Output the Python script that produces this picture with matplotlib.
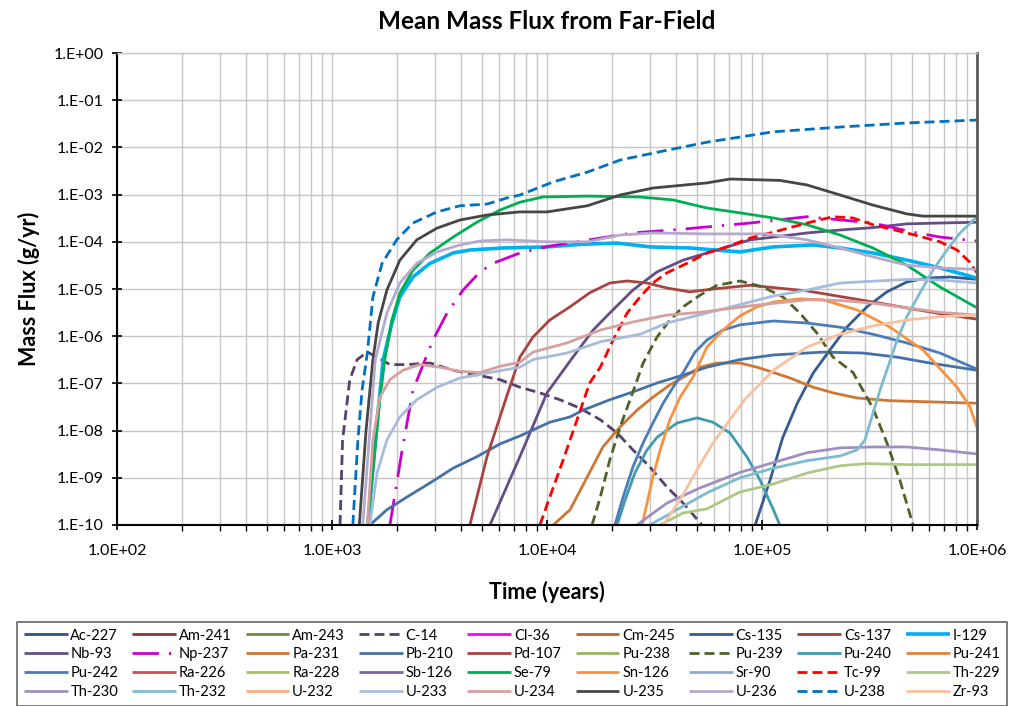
import matplotlib
matplotlib.use("Agg")
import matplotlib.pyplot as plt
from matplotlib.ticker import FuncFormatter, LogLocator, NullFormatter

plt.rcParams['font.family'] = ['Lato', 'DejaVu Sans']

# legend order as in the chart (alphabetical, filled row by row)
names = ['Ac-227', 'Am-241', 'Am-243', 'C-14', 'Cl-36', 'Cm-245', 'Cs-135', 'Cs-137', 'I-129',
         'Nb-93', 'Np-237', 'Pa-231', 'Pb-210', 'Pd-107', 'Pu-238', 'Pu-239', 'Pu-240', 'Pu-241',
         'Pu-242', 'Ra-226', 'Ra-228', 'Sb-126', 'Se-79', 'Sn-126', 'Sr-90', 'Tc-99', 'Th-229',
         'Th-230', 'Th-232', 'U-232', 'U-233', 'U-234', 'U-235', 'U-236', 'U-238', 'Zr-93']

# time (years) and mean mass flux (g/yr)
u238_t = [1250, 1320, 1380, 1460, 1550, 1710, 2000, 2380, 3080, 3940, 5260, 6520, 7480,
          1.07e4, 1.54e4, 2.19e4, 3.61e4, 5.55e4, 1.13e5, 2.31e5, 4.72e5, 1e6]
u238_f = [1e-10, 6.3e-9, 7.2e-8, 4.4e-7, 6.8e-6, 3.5e-5, 1.1e-4, 2.5e-4, 4.3e-4, 5.8e-4, 6.3e-4,
          8.5e-4, 9.8e-4, 1.86e-3, 3.0e-3, 5.4e-3, 8.7e-3, 1.29e-2, 2.14e-2, 2.7e-2, 3.3e-2, 3.8e-2]

u235_t = [1340, 1440, 1550, 1640, 1800, 2070, 2480, 3080, 3940, 5260, 7480, 1e4,
          1.54e4, 2.19e4, 3.11e4, 5.55e4, 7.1e4, 1.21e5, 1.62e5, 2.31e5, 3.28e5, 4.72e5, 5.61e5, 1e6]
u235_f = [1e-10, 1e-8, 3.2e-7, 1.9e-6, 9.5e-6, 4.1e-5, 1.1e-4, 1.95e-4, 2.9e-4, 3.7e-4, 4.3e-4, 4.3e-4,
          5.8e-4, 9.8e-4, 1.38e-3, 1.77e-3, 2.14e-3, 2.0e-3, 1.6e-3, 9.8e-4, 6.0e-4, 3.9e-4, 3.5e-4, 3.5e-4]

se79_t = [1460, 1570, 1670, 1760, 1900, 2070, 2380, 2860, 3660, 4720, 6040, 7480, 9570,
          1.54e4, 2.71e4, 3.86e4, 5.55e4, 7.9e4, 1.13e5, 1.62e5, 2.31e5, 3.28e5, 4.72e5, 6.73e5, 1e6]
se79_f = [1e-10, 2.4e-9, 4.5e-8, 3.2e-7, 2.2e-6, 8.3e-6, 2.5e-5, 5.8e-5, 1.26e-4, 2.6e-4, 4.7e-4, 6.9e-4, 8.9e-4,
          9.3e-4, 8.9e-4, 7.7e-4, 5.2e-4, 4.1e-4, 3.2e-4, 2.3e-4, 1.39e-4, 7.4e-5, 3.2e-5, 1.1e-5, 4.0e-6]

u236_t = [1390, 1500, 1590, 1800, 2070, 2480, 3080, 3940, 4880, 6520, 1e4,
          1.54e4, 2.19e4, 3.11e4, 5.55e4, 1.05e5, 1.62e5, 2.31e5, 3.28e5, 4.72e5, 6.73e5, 1e6]
u236_f = [1e-10, 1e-8, 3.2e-7, 3.1e-6, 1.34e-5, 3.5e-5, 6.1e-5, 8.6e-5, 1.04e-4, 1.1e-4, 1.0e-4,
          1.0e-4, 1.39e-4, 1.54e-4, 1.47e-4, 1.47e-4, 1.1e-4, 7.4e-5, 4.8e-5, 3.2e-5, 2.8e-5, 2.6e-5]

i129_t = [1470, 1590, 1730, 1900, 2070, 2380, 2860, 3660, 4380, 6240, 1e4, 1.47e4,
          2.12e4, 3.01e4, 4.62e4, 7.9e4, 1.13e5, 1.73e5, 2.31e5, 3.28e5, 4.72e5, 6.73e5, 1e6]
i129_f = [1e-10, 6.3e-9, 3.2e-7, 1.9e-6, 6.8e-6, 1.8e-5, 3.5e-5, 5.8e-5, 6.7e-5, 7.4e-5, 7.8e-5, 8.9e-5,
          9.4e-5, 7.8e-5, 7.4e-5, 6.1e-5, 7.8e-5, 8.6e-5, 7.4e-5, 5.8e-5, 4.1e-5, 2.8e-5, 1.7e-5]

np237_t = [1860, 2120, 2380, 2950, 3430, 4070, 4880, 5610, 7480, 1.03e4, 1.77e4, 2.51e4,
           4.3e4, 8.8e4, 1.62e5, 3.28e5, 5.04e5, 6.73e5, 1e6]
np237_f = [1e-10, 3.9e-9, 7.2e-8, 8.3e-7, 3.1e-6, 9.5e-6, 2.3e-5, 3.5e-5, 5.8e-5, 8.1e-5, 1.2e-4, 1.54e-4,
           1.86e-4, 2.5e-4, 3.4e-4, 2.5e-4, 1.6e-4, 1.26e-4, 1.04e-4]

tc99_t = [9270, 1.03e4, 1.19e4, 1.38e4, 1.58e4, 1.77e4, 2.03e4, 2.36e4, 2.71e4, 3.11e4, 3.61e4, 4.48e4,
          5.55e4, 6.87e4, 8.8e4, 1.13e5, 1.62e5, 2.14e5, 2.65e5, 3.28e5, 4.72e5, 6.73e5, 8.07e5, 9.27e5, 1e6]
tc99_f = [1e-10, 3.9e-10, 2.4e-9, 1.7e-8, 1.02e-7, 2.2e-7, 8.3e-7, 3.1e-6, 6.8e-6, 1.34e-5, 2.2e-5, 3.5e-5,
          5.8e-5, 7.8e-5, 1.2e-4, 1.6e-4, 2.5e-4, 3.4e-4, 3.2e-4, 2.3e-4, 1.54e-4, 1.0e-4, 6.7e-5, 3.7e-5, 2.2e-5]

nb93_t = [5430, 7480, 1e4, 1.32e4, 1.64e4, 1.96e4, 2.51e4, 3.25e4, 4.3e4, 6.18e4, 8.8e4,
          1.13e5, 1.62e5, 2.31e5, 3.28e5, 4.72e5, 6.73e5, 1e6]
nb93_f = [1e-10, 2.8e-9, 6.3e-8, 3.6e-7, 1.35e-6, 3.1e-6, 9.5e-6, 2.3e-5, 4.1e-5, 6.7e-5, 1.1e-4,
          1.26e-4, 1.54e-4, 1.78e-4, 2.0e-4, 2.4e-4, 2.5e-4, 2.6e-4]

pd107_t = [4380, 5260, 6520, 7480, 8610, 1.03e4, 1.28e4, 1.58e4, 1.96e4, 2.36e4, 2.92e4, 3.61e4,
           4.62e4, 5.92e4, 8.8e4, 1.62e5, 3.28e5, 6.73e5, 1e6]
pd107_f = [1e-10, 2.8e-9, 5.6e-8, 3.6e-7, 9.6e-7, 2.2e-6, 4.2e-6, 8.3e-6, 1.34e-5, 1.48e-5, 1.34e-5, 1.05e-5,
           8.7e-6, 1.0e-5, 1.2e-5, 9.1e-6, 5.3e-6, 3.0e-6, 2.3e-6]

c14_t = [1090, 1120, 1210, 1310, 1460, 1640, 1860, 2230, 2860, 3660, 4720, 6040, 7480, 9270,
         1.15e4, 1.42e4, 1.77e4, 2.12e4, 2.51e4, 3.01e4, 3.61e4, 4.3e4, 5.26e4]
c14_f = [1e-10, 6.3e-9, 1.2e-7, 3.2e-7, 4.6e-7, 3.5e-7, 2.5e-7, 2.5e-7, 2.7e-7, 1.9e-7, 1.5e-7, 1.2e-7, 8.3e-8, 6.3e-8,
         4.5e-8, 3.0e-8, 1.7e-8, 8.9e-9, 3.9e-9, 1.7e-9, 6.4e-10, 2.9e-10, 1e-10]

u234_t = [1460, 1550, 1670, 1860, 2140, 2560, 3180, 3940, 4880, 6040, 7480, 8610,
          1.24e4, 1.77e4, 2.51e4, 3.61e4, 5.15e4, 8.8e4, 1.62e5, 2.31e5, 3.28e5, 4.72e5, 6.73e5, 1e6]
u234_f = [1e-10, 6.3e-9, 5.1e-8, 1.2e-7, 1.9e-7, 2.5e-7, 2.2e-7, 1.8e-7, 1.7e-7, 2.3e-7, 2.8e-7, 4.6e-7,
          7.2e-7, 1.35e-6, 2.0e-6, 2.8e-6, 3.2e-6, 4.4e-6, 5.9e-6, 5.7e-6, 5.0e-6, 4.0e-6, 3.2e-6, 2.8e-6]

u233_t = [1500, 1620, 1800, 2070, 2480, 3080, 3940, 5260, 7480, 8610, 1.24e4,
          1.77e4, 2.71e4, 3.61e4, 5.55e4, 1.13e5, 1.62e5, 2.31e5, 4.72e5, 6.73e5, 1e6]
u233_f = [1e-10, 1.26e-9, 6.3e-9, 1.95e-8, 4.5e-8, 8.3e-8, 1.3e-7, 1.66e-7, 2.2e-7, 3.2e-7, 4.4e-7,
          7.6e-7, 1.1e-6, 1.9e-6, 3.1e-6, 7.1e-6, 9.5e-6, 1.34e-5, 1.6e-5, 1.55e-5, 1.34e-5]

pb210_t = [1500, 1800, 2230, 2860, 3660, 4720, 6040, 7480, 1.03e4, 1.28e4, 1.47e4, 1.96e4,
           2.51e4, 3.25e4, 4.3e4, 5.55e4, 7.9e4, 1.13e5, 1.92e5, 2.95e5, 4.25e5, 6.04e5, 1e6]
pb210_f = [1e-10, 2.1e-10, 3.9e-10, 7.8e-10, 1.6e-9, 2.8e-9, 5.2e-9, 7.7e-9, 1.5e-8, 1.95e-8, 2.7e-8, 4.5e-8,
           6.6e-8, 1.02e-7, 1.5e-7, 2.2e-7, 3.2e-7, 4.0e-7, 4.6e-7, 4.4e-7, 3.6e-7, 2.7e-7, 1.9e-7]

pa231_t = [1.07e4, 1.28e4, 1.54e4, 1.82e4, 2.19e4, 2.62e4, 3.11e4, 3.73e4, 4.48e4, 5.15e4, 6.18e4,
           7.9e4, 9.5e4, 1.13e5, 1.35e5, 1.73e5, 2.14e5, 2.77e5, 3.94e5, 5.61e5, 1e6]
pa231_f = [1e-10, 2.1e-10, 1.05e-9, 4.5e-9, 1.2e-8, 2.7e-8, 5.1e-8, 9.3e-8, 1.5e-7, 2.2e-7, 2.7e-7,
           2.7e-7, 2.2e-7, 1.7e-7, 1.3e-7, 8.3e-8, 6.3e-8, 4.9e-8, 4.3e-8, 4.1e-8, 3.8e-8]

pu239_t = [1.62e4, 1.77e4, 1.96e4, 2.19e4, 2.51e4, 2.8e4, 3.25e4, 3.73e4, 4.3e4, 5.15e4, 6.18e4,
           7.9e4, 1.01e5, 1.25e5, 1.5e5, 1.8e5, 2.14e5, 2.65e5, 3.28e5, 3.81e5, 4.38e5, 5.04e5]
pu239_f = [1e-10, 3.9e-10, 2.4e-9, 1.2e-8, 6.6e-8, 2.7e-7, 9.6e-7, 2.2e-6, 4.2e-6, 7.4e-6, 1.2e-5,
           1.48e-5, 1.1e-5, 6.8e-6, 3.1e-6, 1.17e-6, 3.6e-7, 1.7e-7, 3.0e-8, 5.5e-9, 8.9e-10, 1e-10]

pu240_t = [2.12e4, 2.31e4, 2.57e4, 2.92e4, 3.25e4, 4.03e4, 4.99e4, 5.92e4, 7.1e4, 8.5e4, 9.8e4, 1.13e5, 1.21e5]
pu240_f = [1e-10, 3.4e-10, 1.3e-9, 3.9e-9, 7.2e-9, 1.45e-8, 1.86e-8, 1.5e-8, 8.9e-9, 2.8e-9, 8.9e-10, 2.1e-10, 1e-10]

pu242_t = [2.07e4, 2.26e4, 2.51e4, 2.8e4, 3.11e4, 3.47e4, 3.86e4, 4.3e4, 4.88e4, 5.55e4, 6.59e4,
           7.9e4, 1.13e5, 1.62e5, 2.31e5, 3.28e5, 4.72e5, 6.73e5, 1e6]
pu242_f = [1e-10, 3.9e-10, 1.7e-9, 5.5e-9, 1.45e-8, 3.8e-8, 8.3e-8, 1.7e-7, 4.6e-7, 8.3e-7, 1.35e-6,
           1.74e-6, 2.1e-6, 1.9e-6, 1.55e-6, 1.1e-6, 7.2e-7, 4.4e-7, 2.0e-7]

sn126_t = [2.77e4, 2.92e4, 3.11e4, 3.36e4, 3.73e4, 4.16e4, 4.78e4, 5.55e4, 6.59e4, 7.9e4,
           9.5e4, 1.13e5, 1.5e5, 1.92e5, 2.77e5, 3.94e5, 5.61e5, 8.07e5, 9.27e5, 1e6]
sn126_f = [1e-10, 2.9e-10, 1.05e-9, 3.9e-9, 1.7e-8, 5.1e-8, 1.37e-7, 5.9e-7, 1.35e-6, 2.7e-6,
           4.2e-6, 5.3e-6, 6.2e-6, 5.9e-6, 3.6e-6, 1.55e-6, 5.1e-7, 8.3e-8, 3.2e-8, 1.15e-8]

zr93_t = [3.47e4, 4.16e4, 4.99e4, 5.92e4, 7.1e4, 8.3e4, 1.13e5, 1.62e5, 2.31e5, 3.28e5, 4.72e5, 6.73e5, 1e6]
zr93_f = [1e-10, 3.4e-10, 1.47e-9, 5.5e-9, 1.7e-8, 4.5e-8, 1.9e-7, 5.9e-7, 1.1e-6, 1.65e-6, 2.2e-6, 2.6e-6, 2.8e-6]

cs135_t = [9.3e4, 1.09e5, 1.25e5, 1.46e5, 1.73e5, 2.07e5, 2.48e5, 3.08e5, 3.81e5, 4.72e5, 5.85e5, 7.48e5, 1e6]
cs135_f = [1e-10, 8.9e-10, 7.2e-9, 3.8e-8, 1.66e-7, 5.1e-7, 1.55e-6, 4.2e-6, 8.7e-6, 1.41e-5, 1.7e-5, 1.8e-5, 1.6e-5]

th232_t = [3.01e4, 3.86e4, 5.55e4, 7.9e4, 1.13e5, 1.62e5, 2.31e5, 2.77e5, 3.01e5, 3.28e5,
           3.54e5, 3.81e5, 4.25e5, 4.72e5, 5.43e5, 6.24e5, 7.24e5, 8.34e5, 1e6]
th232_f = [1e-10, 1.9e-10, 4.8e-10, 1.0e-9, 1.6e-9, 2.3e-9, 2.9e-9, 3.9e-9, 6.3e-9, 2.3e-8,
           7.2e-8, 1.9e-7, 8.3e-7, 2.6e-6, 8.3e-6, 2.5e-5, 6.7e-5, 1.54e-4, 3.4e-4]

th230_t = [2.62e4, 3.61e4, 5.15e4, 7.9e4, 1.13e5, 1.62e5, 2.31e5, 3.28e5, 4.72e5, 6.73e5, 1e6]
th230_f = [1e-10, 2.9e-10, 6.1e-10, 1.3e-9, 2.1e-9, 3.4e-9, 4.3e-9, 4.5e-9, 4.5e-9, 3.9e-9, 3.2e-9]

th229_t = [3.36e4, 4.3e4, 5.55e4, 7.9e4, 1.13e5, 1.62e5, 2.31e5, 3.08e5, 4.72e5, 1e6]
th229_f = [1e-10, 1.8e-10, 2.2e-10, 5.0e-10, 7.4e-10, 1.26e-9, 1.8e-9, 2.0e-9, 1.9e-9, 1.9e-9]

series = {
    'C-14': (c14_t, c14_f), 'Cs-135': (cs135_t, cs135_f), 'I-129': (i129_t, i129_f),
    'Nb-93': (nb93_t, nb93_f), 'Np-237': (np237_t, np237_f), 'Pa-231': (pa231_t, pa231_f),
    'Pb-210': (pb210_t, pb210_f), 'Pd-107': (pd107_t, pd107_f), 'Pu-239': (pu239_t, pu239_f),
    'Pu-240': (pu240_t, pu240_f), 'Pu-242': (pu242_t, pu242_f), 'Se-79': (se79_t, se79_f),
    'Sn-126': (sn126_t, sn126_f), 'Tc-99': (tc99_t, tc99_f), 'Th-229': (th229_t, th229_f),
    'Th-230': (th230_t, th230_f), 'Th-232': (th232_t, th232_f), 'U-233': (u233_t, u233_f),
    'U-234': (u234_t, u234_f), 'U-235': (u235_t, u235_f), 'U-236': (u236_t, u236_f),
    'U-238': (u238_t, u238_f), 'Zr-93': (zr93_t, zr93_f),
}

colors = {
    'Ac-227': '#2F5287', 'Am-241': '#8E3532', 'Am-243': '#71893A', 'C-14': '#56406F',
    'Cl-36': '#FF00FF', 'Cm-245': '#B5692D', 'Cs-135': '#355C92', 'Cs-137': '#A33E3B',
    'I-129': '#00B0F0', 'Nb-93': '#654E85', 'Np-237': '#CC00CC', 'Pa-231': '#CD7734',
    'Pb-210': '#4472A8', 'Pd-107': '#A9433F', 'Pu-238': '#97B65A', 'Pu-239': '#4F6228',
    'Pu-240': '#3F9AB2', 'Pu-241': '#E2843A', 'Pu-242': '#4B7CBB', 'Ra-226': '#C35450',
    'Ra-228': '#A4C263', 'Sb-126': '#8064A2', 'Se-79': '#00B050', 'Sn-126': '#F8923F',
    'Sr-90': '#8EA9D3', 'Tc-99': '#FF0000', 'Th-229': '#AEC784', 'Th-230': '#A08FC2',
    'Th-232': '#7DBBCE', 'U-232': '#F9AE7E', 'U-233': '#A7BCDC', 'U-234': '#D5A09E',
    'U-235': '#464646', 'U-236': '#B5AACC', 'U-238': '#0070C0', 'Zr-93': '#F8BFA0',
}
dashes = {'C-14': (3.6, 1.8), 'Pu-239': (3.6, 1.8), 'Tc-99': (3.6, 1.8), 'U-238': (3.6, 1.8),
          'Np-237': (9.5, 3.6, 0.8, 3.6)}

fig = plt.figure(figsize=(10.12, 7.06), dpi=100)
ax = fig.add_axes([0.1156, 0.2564, 0.8498, 0.6685])

handles = []
for name in names:
    t, f = series.get(name, ([], []))
    lw = 2.6 if name == 'I-129' else 2.0
    line, = ax.plot(t, f, color=colors[name], lw=lw, label=name, solid_capstyle='butt')
    if name in dashes:
        line.set_dashes(dashes[name])
    handles.append(line)

ax.set_xscale('log')
ax.set_yscale('log')
ax.set_xlim(1e2, 1e6)
ax.set_ylim(1e-10, 1e0)

ax.xaxis.set_major_locator(LogLocator(base=10, numticks=10))
ax.xaxis.set_minor_locator(LogLocator(base=10, subs=range(2, 10), numticks=20))
ax.xaxis.set_minor_formatter(NullFormatter())
ax.yaxis.set_major_locator(LogLocator(base=10, numticks=15))
ax.yaxis.set_minor_locator(LogLocator(base=10, subs=[], numticks=15))
ax.xaxis.set_major_formatter(FuncFormatter(lambda v, p: f"{v:.1E}"))
ax.yaxis.set_major_formatter(FuncFormatter(lambda v, p: f"{v:#.0E}"))

ax.grid(True, which='major', color='#C6C6C6', lw=1.0)
ax.grid(True, which='minor', axis='x', color='#C6C6C6', lw=1.0)
ax.set_axisbelow(True)

ax.tick_params(axis='both', which='major', direction='inout', length=7, width=1.2, labelsize=11.5)
ax.tick_params(axis='x', which='major', pad=10)
ax.tick_params(axis='y', which='major', pad=6)
ax.tick_params(axis='x', which='minor', direction='out', length=4, width=1.0)
for s in ('left', 'bottom'):
    ax.spines[s].set_color('black')
    ax.spines[s].set_linewidth(1.5)
ax.spines['right'].set_color('#595959')
ax.spines['right'].set_linewidth(2)
ax.spines['top'].set_color('#C6C6C6')
ax.spines['top'].set_linewidth(1.0)

ax.set_title('Mean Mass Flux from Far-Field', fontsize=17.5, fontweight='bold', pad=17)
ax.set_xlabel('Time (years)', fontsize=15.5, fontweight='bold', labelpad=17)
ax.set_ylabel('Mass Flux (g/yr)', fontsize=15.5, fontweight='bold', labelpad=10)

# legend filled row by row: reorder for matplotlib's column-first filling
ncol, nrow = 9, 4
order = [r * ncol + c for c in range(ncol) for r in range(nrow)]
leg = fig.legend([handles[i] for i in order], [names[i] for i in order],
                 ncol=ncol, loc='upper left', bbox_to_anchor=(0.017, -0.05, 0.978, 0.169),
                 mode='expand', fontsize=10.5, frameon=True, fancybox=False,
                 edgecolor='#404040', handlelength=3.0, handletextpad=0.2,
                 labelspacing=0.33, borderaxespad=0, borderpad=0.45)
leg.get_frame().set_linewidth(1.2)

fig.savefig('out.png', dpi=100)
